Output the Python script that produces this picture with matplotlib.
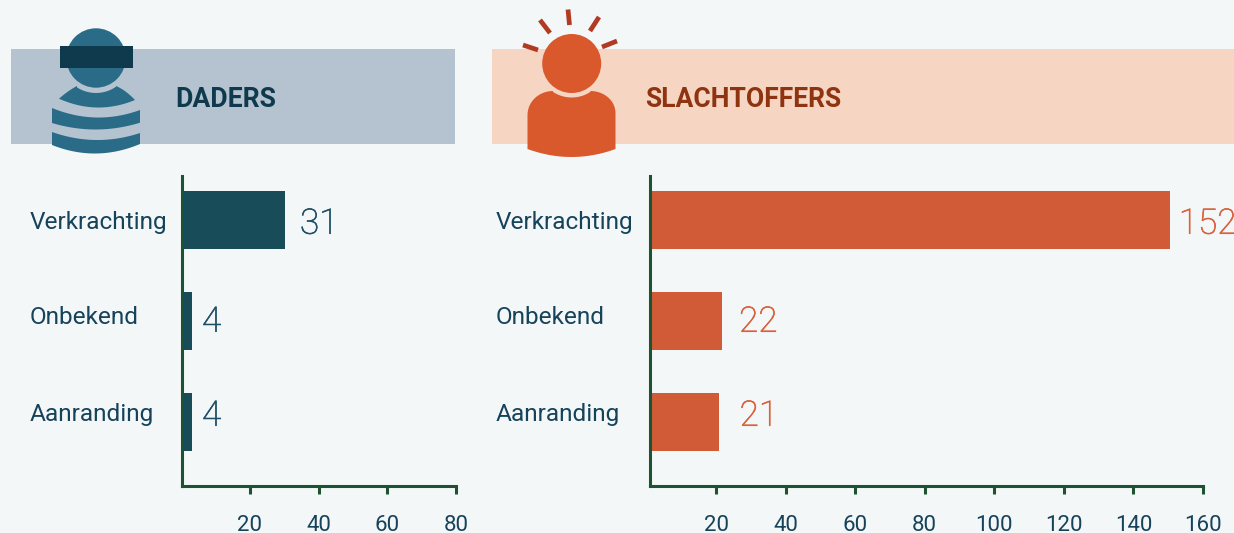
import matplotlib
matplotlib.use("Agg")
import matplotlib.pyplot as plt
import matplotlib.patheffects as pe
import numpy as np
from matplotlib.patches import Rectangle, Circle, Polygon

W, H = 1234, 533
BG = '#f3f7f8'
categories = ['Verkrachting', 'Onbekend', 'Aanranding']
daders = [31, 4, 4]
slachtoffers = [152, 22, 21]
ticks_d = [20, 40, 60, 80]
ticks_s = [20, 40, 60, 80, 100, 120, 140, 160]

plt.rcParams['font.family'] = ['Roboto', 'DejaVu Sans']
fig = plt.figure(figsize=(W/100, H/100), dpi=100, facecolor=BG)
ov = fig.add_axes([0, 0, 1, 1], zorder=0)
ov.set_xlim(0, W); ov.set_ylim(H, 0); ov.axis('off')

ov.add_patch(Rectangle((11, 49), 444, 95, fc='#b5c3d1', ec='none'))
ov.add_patch(Rectangle((492, 49), 742, 95, fc='#f6d6c3', ec='none'))
ov.text(175.5, 99.5, 'DADERS', fontsize=19.2, fontweight='bold', color='#0f3a4e', va='center')
ov.text(645.5, 99.5, 'SLACHTOFFERS', fontsize=19.1, fontweight='bold', color='#8f3410', va='center')

def arc(x0, x1, y0, y1, ymid, n=30):
    xs = np.linspace(x0, x1, n)
    t = (xs-x0)/(x1-x0)
    base = y0+(y1-y0)*t
    return np.column_stack([xs, base+(ymid-(y0+y1)/2)*4*t*(1-t)])

def shoulder(x0, y0, x1, y1, n=16):
    a = np.linspace(0, np.pi/2, n)
    return np.column_stack([x0+(x1-x0)*(1-np.cos(a)), y0+(y1-y0)*np.sin(a)])

def notch(cx, cy, r, x0, x1, n=20):
    xs = np.linspace(x0, x1, n)
    return np.column_stack([xs, cy+np.sqrt(r**2-(xs-cx)**2)])

# dader icon
c = '#2a6c87'
ov.add_patch(Circle((96, 58), 29.7, fc=c, ec='none'))
ov.add_patch(Rectangle((60, 46), 73, 22, fc='#0f3a4e', ec='none'))
top = np.vstack([arc(59, 77, 98.7, 86, 91.5), notch(96, 58, 35, 77, 116), arc(116, 135, 86, 100, 91.5)])
ov.add_patch(Polygon(np.vstack([top, arc(135, 59, 100, 98.7, 107.5)]), fc=c, ec='none'))
ov.add_patch(Polygon(np.vstack([arc(52, 140, 108, 110, 117.5), arc(140, 52, 122.7, 123, 129.5)]), fc=c, ec='none'))
ov.add_patch(Polygon(np.vstack([arc(52, 140, 132, 133, 140), arc(140, 52, 144, 145, 153.5)]), fc=c, ec='none'))

# slachtoffer icon
c2 = '#d9592c'
ov.add_patch(Circle((571.7, 63.5), 29.5, fc=c2, ec='none'))
body = np.vstack([[[527.5, 149]], shoulder(527.5, 115, 553, 91),
                  notch(571.7, 63.5, 34, 553, 590.4), shoulder(615.5, 113, 590.4, 91)[::-1], [[615.5, 149]]])
ov.add_patch(Polygon(np.vstack([body, arc(615.5, 527.5, 149, 149, 157)]), fc=c2, ec='none'))
for (x0, y0, x1, y1) in [(523, 45, 538, 50), (540, 20, 550, 33), (568, 9.5, 569.5, 25), (599, 17, 590, 31), (617, 41, 602, 47)]:
    ov.plot([x0, x1], [y0, y1], color='#b23a22', lw=3.4, solid_capstyle='butt')

BAR_PX = 3.444   # pixels per unit of the bars

def panel(left, right, tick_x0, tick_x1, bar_zero, vals, ticks, barcolor, labelcolor, lab_x, offs):
    bottom, top_ = 486, 176
    rect = [left/W, 1-bottom/H, (right-left)/W, (bottom-top_)/H]
    ax = fig.add_axes(rect, zorder=2)
    ax.patch.set_alpha(0)
    ax.set_xlim(tick_x0, tick_x1); ax.set_ylim(bottom, top_)
    for s in ('top', 'right'):
        ax.spines[s].set_visible(False)
    for s in ('left', 'bottom'):
        ax.spines[s].set_color('#1f5233'); ax.spines[s].set_linewidth(2.2)
    ax.set_yticks([])
    ax.set_xticks(ticks)
    ax.tick_params(axis='x', direction='out', length=6, width=2.2, color='#1f5233', pad=15,
                   labelsize=16, labelcolor='#16435a')

    bx = fig.add_axes(rect, zorder=1)
    bx.patch.set_alpha(0); bx.axis('off')
    bx.set_xlim((left-bar_zero)/BAR_PX, (right-bar_zero)/BAR_PX); bx.set_ylim(bottom, top_)
    ys = [220, 321, 422]
    bx.barh(ys, vals, height=58, color=barcolor)
    dy = [4, 1, -6]
    for lbl_y, cat in zip([222, 318, 414], categories):
        ov.text(lab_x, lbl_y, cat, fontsize=17.6, color='#16435a', va='center', ha='left')
    for y, v, off, d in zip(ys, vals, offs, dy):
        t = bx.annotate(str(v), (v, y), xytext=(off*0.72, -d*0.72), textcoords='offset points', fontsize=25.3,
                        fontweight='light', color=labelcolor, va='center', ha='left',
                        annotation_clip=False)
        t.set_path_effects([pe.withStroke(linewidth=0.45, foreground=labelcolor)])

panel(182, 456, 1/3.44, 80, 178.2, daders, ticks_d, '#174c58', '#1f4f66', 30, [15, 10, 10])
panel(649.5, 1203, 3/3.476, 160, 646.3, slachtoffers, ticks_s, '#d15b36', '#d9603a', 496, [9, 17, 21])

fig.savefig('out.png', dpi=100, facecolor=BG)
